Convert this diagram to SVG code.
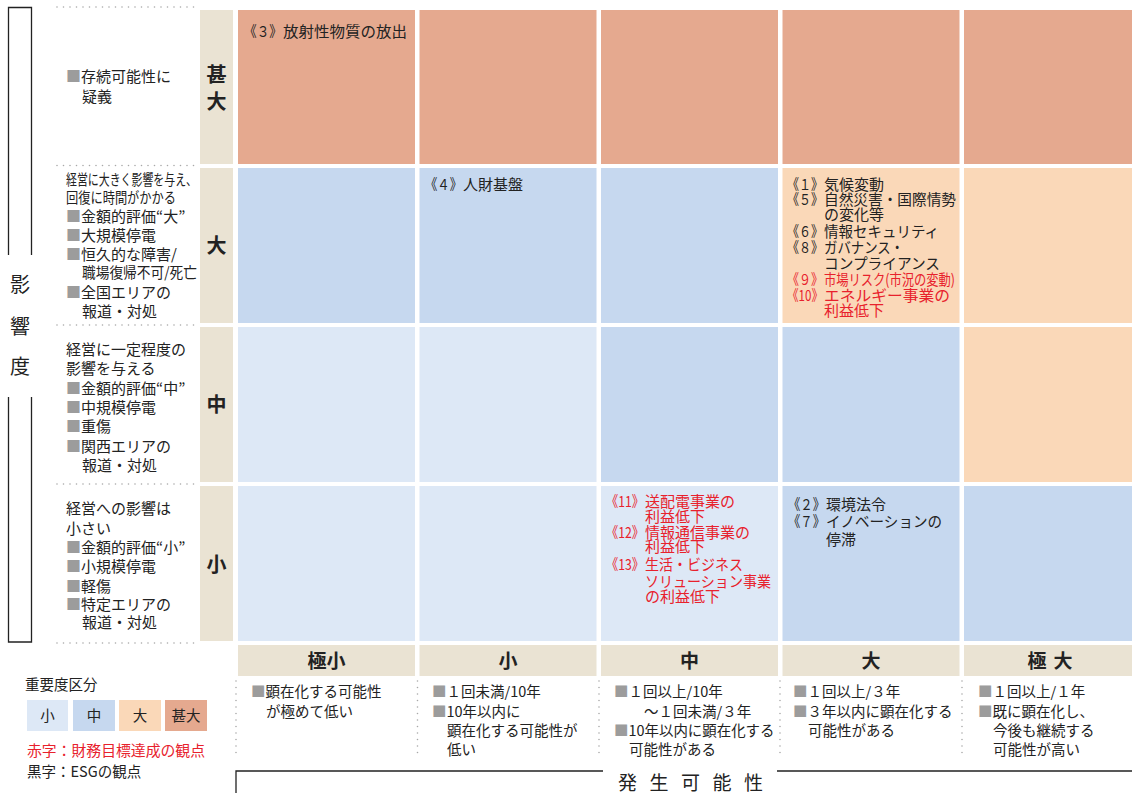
<svg xmlns="http://www.w3.org/2000/svg" width="1132" height="793" viewBox="0 0 1132 793">
<style>
text{font-family:"Noto Sans CJK JP","Noto Sans",sans-serif;fill:#222;font-size:15px}
.s{font-size:14.5px}
.r{fill:#E8212C}
.g{fill:#9c9c9c}
.hd{font-size:19px;font-weight:700;text-anchor:middle}
.rh{font-size:20px;font-weight:700;text-anchor:middle}
.c1{fill:#E5A98F}.c2{fill:#FAD8B8}.c3{fill:#C6D8EF}.c4{fill:#DDE8F6}.bg{fill:#EAE3D3}
.dot{stroke:#a8a8a8;stroke-width:1.6;stroke-dasharray:0 6.5;stroke-linecap:round;fill:none}
.ln{stroke:#222;stroke-width:1.3;fill:none}
</style>
<rect width="1132" height="793" fill="#fff"/>

<g id="axis-impact">
<path class="ln" d="M31.5,255 V7.5 H8.5 V255"/>
<path class="ln" d="M31.5,397 V642 H8.5 V397"/>
<text style="font-size:20px;text-anchor:middle"><tspan x="20" y="292">影</tspan><tspan x="20" y="334">響</tspan><tspan x="20" y="374">度</tspan></text>
</g>

<g id="dotted-lines">
<path class="dot" d="M57,7 H200 M57,165.5 H200 M57,325 H200 M57,484 H200 M57,643 H200"/>
<path class="dot" d="M236,681 V758 M417.5,681 V758 M599,681 V758 M780,681 V758 M962,681 V758"/>
</g>

<g id="row-headers">
<rect class="bg" x="200" y="10" width="33" height="154"/>
<rect class="bg" x="200" y="168" width="33" height="155"/>
<rect class="bg" x="200" y="327" width="33" height="155"/>
<rect class="bg" x="200" y="486" width="33" height="155"/>
<text class="rh"><tspan x="216.5" y="82">甚</tspan><tspan x="216.5" y="109">大</tspan></text>
<text class="rh" x="216.5" y="253">大</text>
<text class="rh" x="216.5" y="412">中</text>
<text class="rh" x="216.5" y="572">小</text>
</g>

<g id="row-labels">
<text id="lbl-extreme"><tspan x="66" y="82" class="g">■</tspan><tspan>存続可能性に</tspan><tspan x="82" y="102">疑義</tspan></text>
<text id="lbl-large"><tspan x="66" y="185" textLength="131" lengthAdjust="spacingAndGlyphs">経営に大きく影響を与え、</tspan><tspan x="66" y="203" textLength="110" lengthAdjust="spacingAndGlyphs">回復に時間がかかる</tspan><tspan x="66" y="222" class="g">■</tspan><tspan>金額的評価“大”</tspan><tspan x="66" y="241" class="g">■</tspan><tspan>大規模停電</tspan><tspan x="66" y="260" class="g">■</tspan><tspan>恒久的な障害/</tspan><tspan x="82" y="278" textLength="115" lengthAdjust="spacingAndGlyphs">職場復帰不可/死亡</tspan><tspan x="66" y="298" class="g">■</tspan><tspan>全国エリアの</tspan><tspan x="82" y="317">報道・対処</tspan></text>
<text id="lbl-medium"><tspan x="66" y="355">経営に一定程度の</tspan><tspan x="66" y="374">影響を与える</tspan><tspan x="66" y="394" class="g">■</tspan><tspan>金額的評価“中”</tspan><tspan x="66" y="413" class="g">■</tspan><tspan>中規模停電</tspan><tspan x="66" y="432" class="g">■</tspan><tspan>重傷</tspan><tspan x="66" y="452" class="g">■</tspan><tspan>関西エリアの</tspan><tspan x="82" y="471">報道・対処</tspan></text>
<text id="lbl-small"><tspan x="66" y="514">経営への影響は</tspan><tspan x="66" y="534">小さい</tspan><tspan x="66" y="553" class="g">■</tspan><tspan>金額的評価“小”</tspan><tspan x="66" y="572" class="g">■</tspan><tspan>小規模停電</tspan><tspan x="66" y="592" class="g">■</tspan><tspan>軽傷</tspan><tspan x="66" y="610" class="g">■</tspan><tspan>特定エリアの</tspan><tspan x="82" y="628">報道・対処</tspan></text>
</g>

<g id="matrix">
<rect class="c1" x="238" y="10" width="177" height="154"/>
<rect class="c1" x="419.5" y="10" width="177" height="154"/>
<rect class="c1" x="601" y="10" width="177" height="154"/>
<rect class="c1" x="782.5" y="10" width="177" height="154"/>
<rect class="c1" x="964" y="10" width="168" height="154"/>

<rect class="c3" x="238" y="168" width="177" height="155"/>
<rect class="c3" x="419.5" y="168" width="177" height="155"/>
<rect class="c3" x="601" y="168" width="177" height="155"/>
<rect class="c2" x="782.5" y="168" width="177" height="155"/>
<rect class="c2" x="964" y="168" width="168" height="155"/>

<rect class="c4" x="238" y="327" width="177" height="155"/>
<rect class="c4" x="419.5" y="327" width="177" height="155"/>
<rect class="c3" x="601" y="327" width="177" height="155"/>
<rect class="c3" x="782.5" y="327" width="177" height="155"/>
<rect class="c2" x="964" y="327" width="168" height="155"/>

<rect class="c4" x="238" y="486" width="177" height="155"/>
<rect class="c4" x="419.5" y="486" width="177" height="155"/>
<rect class="c4" x="601" y="486" width="177" height="155"/>
<rect class="c3" x="782.5" y="486" width="177" height="155"/>
<rect class="c3" x="964" y="486" width="168" height="155"/>
</g>

<g id="risk-items">
<text id="item-3"><tspan x="244" y="37" textLength="38" lengthAdjust="spacingAndGlyphs">《３》</tspan><tspan x="283" y="37" textLength="124" lengthAdjust="spacingAndGlyphs">放射性物質の放出</tspan></text>

<text id="item-4"><tspan x="425" y="190" textLength="37" lengthAdjust="spacingAndGlyphs">《４》</tspan><tspan x="463" y="190">人財基盤</tspan></text>

<text id="items-large-large"><tspan x="787" y="190" textLength="36" lengthAdjust="spacingAndGlyphs">《１》</tspan><tspan x="824" y="190">気候変動</tspan><tspan x="787" y="205" textLength="36" lengthAdjust="spacingAndGlyphs">《５》</tspan><tspan x="824" y="205" textLength="132" lengthAdjust="spacingAndGlyphs">自然災害・国際情勢</tspan><tspan x="824" y="220">の変化等</tspan><tspan x="787" y="237" textLength="36" lengthAdjust="spacingAndGlyphs">《６》</tspan><tspan x="824" y="237" textLength="115" lengthAdjust="spacingAndGlyphs">情報セキュリティ</tspan><tspan x="787" y="253" textLength="36" lengthAdjust="spacingAndGlyphs">《８》</tspan><tspan x="824" y="253" textLength="80" lengthAdjust="spacingAndGlyphs">ガバナンス・</tspan><tspan x="824" y="269" textLength="116" lengthAdjust="spacingAndGlyphs">コンプライアンス</tspan><tspan class="r" x="787" y="285" textLength="36" lengthAdjust="spacingAndGlyphs">《９》</tspan><tspan class="r" x="824" y="285" textLength="131" lengthAdjust="spacingAndGlyphs">市場リスク(市況の変動)</tspan><tspan class="r" x="787" y="301" textLength="36" lengthAdjust="spacingAndGlyphs">《10》</tspan><tspan class="r" x="824" y="301" textLength="126" lengthAdjust="spacingAndGlyphs">エネルギー事業の</tspan><tspan class="r" x="824" y="316">利益低下</tspan></text>

<text id="items-small-medium" class="r"><tspan x="606" y="507" textLength="38" lengthAdjust="spacingAndGlyphs">《11》</tspan><tspan x="645" y="507">送配電事業の</tspan><tspan x="645" y="522">利益低下</tspan><tspan x="606" y="538" textLength="38" lengthAdjust="spacingAndGlyphs">《12》</tspan><tspan x="645" y="538">情報通信事業の</tspan><tspan x="645" y="552">利益低下</tspan><tspan x="606" y="570" textLength="38" lengthAdjust="spacingAndGlyphs">《13》</tspan><tspan x="645" y="570" textLength="98" lengthAdjust="spacingAndGlyphs">生活・ビジネス</tspan><tspan x="645" y="587" textLength="126" lengthAdjust="spacingAndGlyphs">ソリューション事業</tspan><tspan x="645" y="602">の利益低下</tspan></text>

<text id="items-small-large"><tspan x="788" y="510" textLength="37" lengthAdjust="spacingAndGlyphs">《２》</tspan><tspan x="826" y="510">環境法令</tspan><tspan x="788" y="527" textLength="37" lengthAdjust="spacingAndGlyphs">《７》</tspan><tspan x="826" y="527" textLength="116" lengthAdjust="spacingAndGlyphs">イノベーションの</tspan><tspan x="826" y="545">停滞</tspan></text>
</g>

<g id="col-headers">
<rect class="bg" x="238" y="645" width="177" height="31"/>
<rect class="bg" x="419.5" y="645" width="177" height="31"/>
<rect class="bg" x="601" y="645" width="177" height="31"/>
<rect class="bg" x="782.5" y="645" width="177" height="31"/>
<rect class="bg" x="964" y="645" width="168" height="31"/>
<text class="hd" x="326.5" y="668">極小</text>
<text class="hd" x="508" y="668">小</text>
<text class="hd" x="689.5" y="668">中</text>
<text class="hd" x="871" y="668">大</text>
<text class="hd"><tspan x="1037" y="668">極</tspan><tspan x="1063" y="668">大</tspan></text>
</g>

<g id="col-descriptions">
<text class="s"><tspan x="251" y="697" class="g">■</tspan><tspan>顕在化する可能性</tspan><tspan x="266" y="717">が極めて低い</tspan></text>
<text class="s"><tspan x="432" y="697" class="g">■</tspan><tspan>１回未満/10年</tspan><tspan x="432" y="717" class="g">■</tspan><tspan>10年以内に</tspan><tspan x="447" y="736">顕在化する可能性が</tspan><tspan x="447" y="755">低い</tspan></text>
<text class="s"><tspan x="614" y="697" class="g">■</tspan><tspan>１回以上/10年</tspan><tspan x="644" y="717">～１回未満/３年</tspan><tspan x="614" y="736" class="g">■</tspan><tspan textLength="146" lengthAdjust="spacingAndGlyphs">10年以内に顕在化する</tspan><tspan x="629" y="755">可能性がある</tspan></text>
<text class="s"><tspan x="793" y="697" class="g">■</tspan><tspan>１回以上/３年</tspan><tspan x="793" y="717" class="g">■</tspan><tspan>３年以内に顕在化する</tspan><tspan x="808" y="736">可能性がある</tspan></text>
<text class="s"><tspan x="978" y="697" class="g">■</tspan><tspan>１回以上/１年</tspan><tspan x="978" y="717" class="g">■</tspan><tspan>既に顕在化し、</tspan><tspan x="993" y="736">今後も継続する</tspan><tspan x="993" y="755">可能性が高い</tspan></text>
</g>

<g id="axis-likelihood">
<path class="ln" d="M236,793 V771 H603 M777,771 H1132"/>
<text x="618" y="790" style="font-size:19px;letter-spacing:12.5px">発生可能性</text>
</g>

<g id="legend">
<text class="s" x="25" y="690">重要度区分</text>
<rect class="c4" x="27" y="700" width="41" height="31"/>
<rect class="c3" x="73" y="700" width="42" height="31"/>
<rect class="c2" x="119" y="700" width="42" height="31"/>
<rect class="c1" x="165" y="700" width="42" height="31"/>
<text class="s" x="47.5" y="721" style="text-anchor:middle">小</text>
<text class="s" x="94" y="721" style="text-anchor:middle">中</text>
<text class="s" x="140" y="721" style="text-anchor:middle">大</text>
<text class="s" x="186" y="721" style="text-anchor:middle">甚大</text>
<text class="s"><tspan class="r" x="27" y="756" textLength="178" lengthAdjust="spacingAndGlyphs">赤字：財務目標達成の観点</tspan><tspan x="27" y="777">黒字：ESGの観点</tspan></text>
</g>
</svg>
